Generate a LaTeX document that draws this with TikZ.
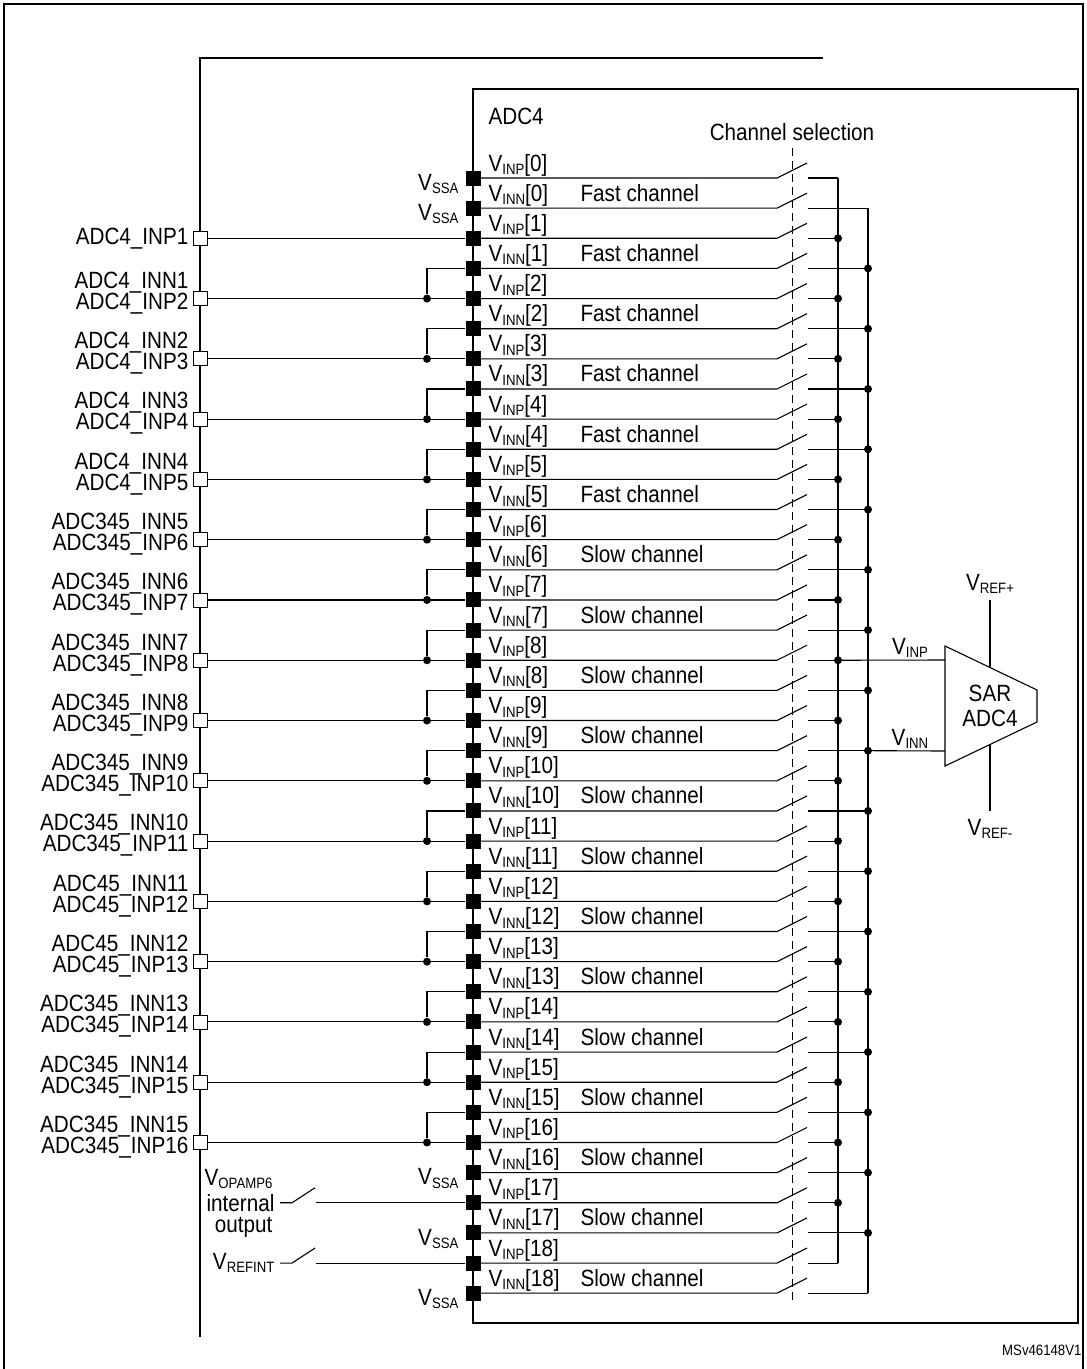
\documentclass[tikz,border=0pt]{standalone}
\usepackage{fontspec}
\setmainfont{Liberation Sans}[FakeStretch=0.88]
\newcommand{\lsub}[1]{\raisebox{-3.5pt}{\fontsize{15}{15}\selectfont #1}}
\begin{document}
\begin{tikzpicture}[x=1pt,y=-1pt,line width=1.1pt,
  pad/.style={rectangle,fill=black,minimum size=15pt,inner sep=0pt},
  pin/.style={rectangle,draw,fill=white,minimum size=14pt,inner sep=0pt,line width=0.8pt},
  dot/.style={circle,fill=black,inner sep=0pt,minimum size=8pt},
  lbl/.style={font=\fontsize{23.5}{25}\selectfont,inner sep=0pt},
  small/.style={font=\fontsize{15}{16}\selectfont,inner sep=0pt}]
\useasboundingbox (0,0) rectangle (1087,1369);
\draw[line width=2pt] (4,1369)--(4,4)--(1083,4)--(1083,1369);
\draw (823,58)--(200,58)--(200,1337);
\draw (473,89) rectangle (1078,1323);
\node[lbl,anchor=west] (adc) at (488,116) {ADC4};
\node[lbl] (chsel) at (792,132) {Channel selection};
\draw[dash pattern=on 8pt off 5pt,line width=0.9pt] (792,148)--(792,1302);
% rows
\foreach \k in {0,...,37}{
  \pgfmathsetmacro\y{178+30.14*\k}
  \pgfmathtruncatemacro\i{floor(\k/2)}
  \node[pad] (p\k) at (473,\y) {};
  \coordinate (s\k) at (777,\y);
  \coordinate (t\k) at (808,\y);
  \draw (p\k.center) -- (s\k) -- ++(30,-15);
  \ifodd\k
    \coordinate (b\k) at (868,\y);
    \node[lbl,anchor=base west] (l\k) at (488,\y-7) {V\lsub{INN}[\i]};
    \ifnum\i<6
      \node[lbl,anchor=base west] (c\k) at (580,\y-7) {Fast channel};
    \else
      \node[lbl,anchor=base west] (c\k) at (580,\y-7) {Slow channel};
    \fi
  \else
    \coordinate (b\k) at (838,\y);
    \node[lbl,anchor=base west] (l\k) at (488,\y-7) {V\lsub{INP}[\i]};
  \fi
  \draw (t\k) -- (b\k);
}
\draw (b0)--(b36);
\draw (b1)--(b37);
\foreach \k in {2,4,...,34}{\node[dot] at (b\k) {};}
\foreach \k in {3,5,...,35}{\node[dot] at (b\k) {};}
\foreach \k in {0,...,37}{\node[pad] at (p\k) {};}
% VSSA
\foreach \k in {0,1,33,35,37}{
  \node[lbl,anchor=east] (vs\k) at (459,{184+30.14*\k}) {V\lsub{SSA}};
}
% pins
\node[pin] (q1) at (200,{178+30.14*2}) {};
\draw (q1.east) -- (p2);
\node[lbl,anchor=east] (n1) at (189,{178+30.14*2}) {ADC4\_INP1};
\foreach \i/\a/\b in {2/ADC4\_INN1/ADC4\_INP2,3/ADC4\_INN2/ADC4\_INP3,4/ADC4\_INN3/ADC4\_INP4,5/ADC4\_INN4/ADC4\_INP5,
  6/ADC345\_INN5/ADC345\_INP6,7/ADC345\_INN6/ADC345\_INP7,8/ADC345\_INN7/ADC345\_INP8,9/ADC345\_INN8/ADC345\_INP9,
  10/ADC345\_INN9/ADC345\_INP10,11/ADC345\_INN10/ADC345\_INP11,12/ADC45\_INN11/ADC45\_INP12,13/ADC45\_INN12/ADC45\_INP13,
  14/ADC345\_INN13/ADC345\_INP14,15/ADC345\_INN14/ADC345\_INP15,16/ADC345\_INN15/ADC345\_INP16}{
  \pgfmathtruncatemacro\k{2*\i}
  \pgfmathtruncatemacro\m{2*\i-1}
  \pgfmathsetmacro\y{178+30.14*\k}
  \node[pin] (q\i) at (200,\y) {};
  \node[dot] (d\i) at (427,\y) {};
  \draw (q\i.east) -- (p\k);
  \draw (d\i) |- (p\m);
  \node[lbl,anchor=east] (na\i) at (189,\y-16) {\a};
  \node[lbl,anchor=east] (nb\i) at (189,\y+5) {\b};
}
% internal switches
\foreach \k/\n in {34/o,36/r}{
  \pgfmathsetmacro\y{178+30.14*\k}
  \coordinate (e\n) at (280,\y);
  \coordinate (f\n) at (316,\y);
  \draw (e\n) -- ++(12,0) -- ++(23,-15);
  \draw (f\n) -- (p\k);
}
\node[lbl,anchor=east] (op2) at (275,{178+30.14*34}) {internal};
\node[lbl,anchor=east] (op1) at (273,{178+30.14*34-24}) {V\lsub{OPAMP6}};
\node[lbl,anchor=east] (op3) at (273,{178+30.14*34+25}) {output};
\node[lbl,anchor=east] (rf) at (275,{178+30.14*36}) {V\lsub{REFINT}};
% SAR
\draw (945,646)--(945,766)--(1037,722)--(1037,690)--cycle;
\node[lbl,align=center] (sar) at (990,706) {SAR\\ADC4};
\draw (b16) -- (945,660);
\draw (b19) -- (945,751);
\node[lbl,anchor=base] (vinp) at (910,654) {V\lsub{INP}};
\node[lbl,anchor=base] (vinn) at (910,745) {V\lsub{INN}};
\draw (990,600) -- (990,667);
\draw (990,745) -- (990,811);
\node[lbl] (vrp) at (990,584) {V\lsub{REF+}};
\node[lbl] (vrm) at (990,829) {V\lsub{REF-}};
\node[small,anchor=east] (ms) at (1082,1350) {MSv46148V1};
\end{tikzpicture}
\end{document}
